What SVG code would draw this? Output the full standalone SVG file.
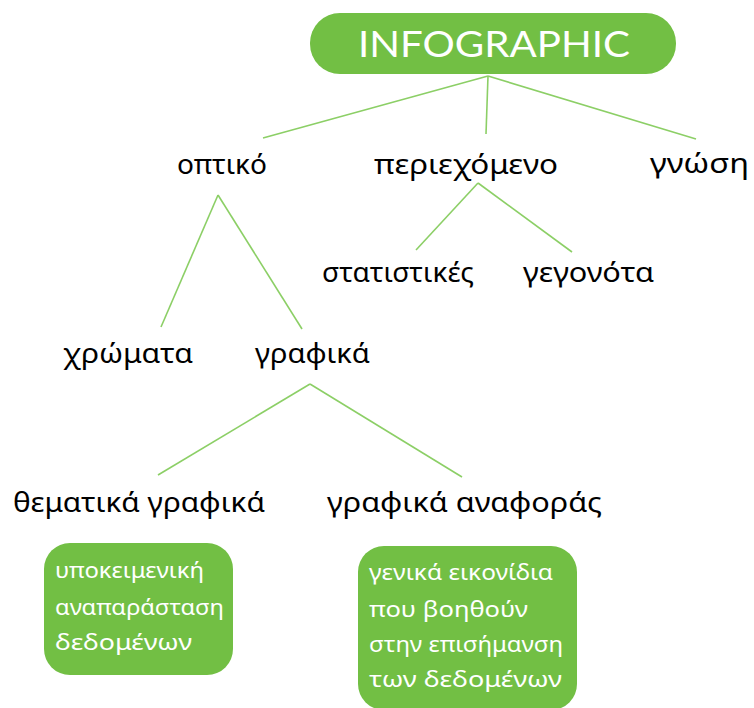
<svg xmlns="http://www.w3.org/2000/svg" width="754" height="708" viewBox="0 0 754 708">
<style>
.box{fill:#72bf44}
.lbl{font-family:"Noto Sans","DejaVu Sans",sans-serif;font-size:27px;fill:#000}
.wt{font-family:"Noto Sans","DejaVu Sans",sans-serif;font-size:22.5px;fill:#fff}
.ttl{font-family:"Lato","Open Sans",sans-serif;font-size:37px;fill:#fff}
.con line{stroke:#8ccf66;stroke-width:1.6;fill:none}
</style>
<rect width="754" height="708" fill="#fff"/>
<g class="con" id="connectors">
<line x1="488" y1="76" x2="263" y2="138"/>
<line x1="488" y1="76" x2="486" y2="134"/>
<line x1="488" y1="76" x2="696" y2="139"/>
<line x1="218" y1="195" x2="161" y2="327"/>
<line x1="218" y1="195" x2="302" y2="329"/>
<line x1="478" y1="183" x2="416" y2="250"/>
<line x1="478" y1="183" x2="572" y2="252"/>
<line x1="310" y1="384" x2="158" y2="475"/>
<line x1="310" y1="384" x2="462" y2="477"/>
</g>
<g id="infographic">
<rect class="box" x="310" y="13" width="366" height="61" rx="30"/>
<text class="ttl" x="358" y="57" textLength="272" lengthAdjust="spacingAndGlyphs">INFOGRAPHIC</text>
</g>
<g id="optiko"><text class="lbl" x="177" y="174" textLength="90" lengthAdjust="spacingAndGlyphs">οπτικό</text></g>
<g id="periexomeno"><text class="lbl" x="374" y="174" textLength="184" lengthAdjust="spacingAndGlyphs">περιεχόμενο</text></g>
<g id="gnosi"><text class="lbl" x="650" y="173" textLength="99" lengthAdjust="spacingAndGlyphs">γνώση</text></g>
<g id="xromata"><text class="lbl" x="63" y="363" textLength="130" lengthAdjust="spacingAndGlyphs">χρώματα</text></g>
<g id="grafika"><text class="lbl" x="255" y="363" textLength="115" lengthAdjust="spacingAndGlyphs">γραφικά</text></g>
<g id="statistikes"><text class="lbl" x="322" y="282" textLength="152" lengthAdjust="spacingAndGlyphs">στατιστικές</text></g>
<g id="gegonota"><text class="lbl" x="523" y="282" textLength="131" lengthAdjust="spacingAndGlyphs">γεγονότα</text></g>
<g id="thematika"><text class="lbl" x="13" y="512" textLength="252" lengthAdjust="spacingAndGlyphs">θεματικά γραφικά</text></g>
<g id="anaforas"><text class="lbl" x="327" y="512" textLength="275" lengthAdjust="spacingAndGlyphs">γραφικά αναφοράς</text></g>
<g id="box1">
<rect class="box" x="44" y="543" width="189" height="132" rx="26"/>
<text class="wt" x="55" y="578" textLength="149" lengthAdjust="spacingAndGlyphs">υποκειμενική</text>
<text class="wt" x="55" y="615" textLength="169" lengthAdjust="spacingAndGlyphs">αναπαράσταση</text>
<text class="wt" x="55" y="650" textLength="137" lengthAdjust="spacingAndGlyphs">δεδομένων</text>
</g>
<g id="box2">
<rect class="box" x="358" y="546" width="219" height="164" rx="26"/>
<text class="wt" x="369" y="580" textLength="184" lengthAdjust="spacingAndGlyphs">γενικά εικονίδια</text>
<text class="wt" x="369" y="617" textLength="159" lengthAdjust="spacingAndGlyphs">που βοηθούν</text>
<text class="wt" x="369" y="652" textLength="194" lengthAdjust="spacingAndGlyphs">στην επισήμανση</text>
<text class="wt" x="369" y="687" textLength="193" lengthAdjust="spacingAndGlyphs">των δεδομένων</text>
</g>
</svg>
